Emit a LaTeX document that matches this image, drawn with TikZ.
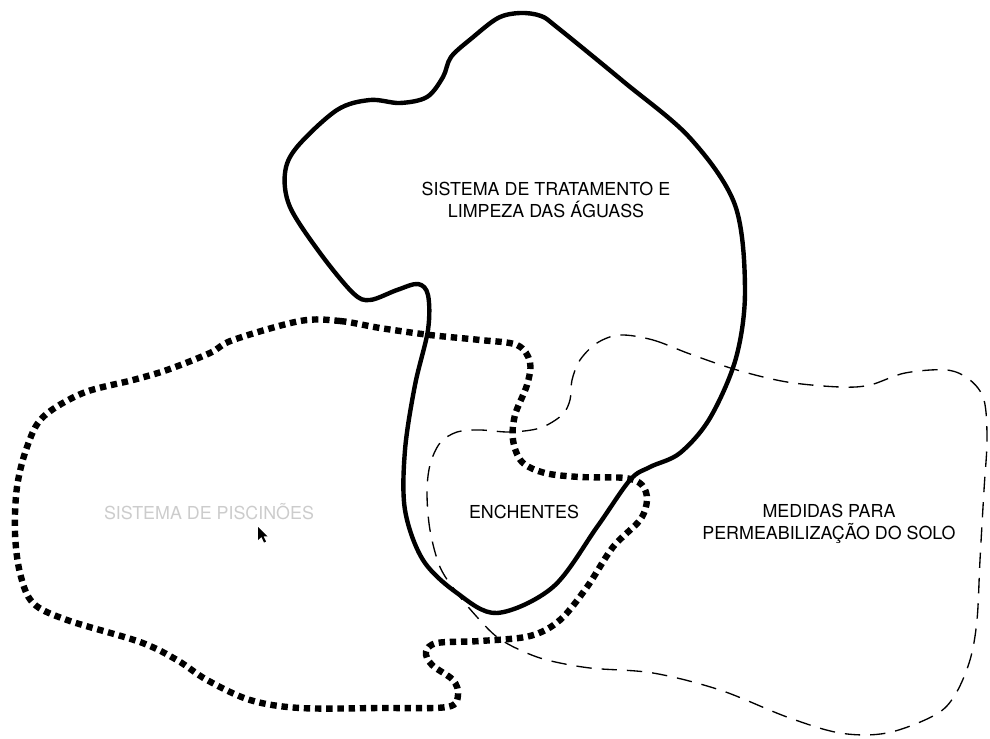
\documentclass[tikz,border=0pt]{standalone}
\usepackage{fontspec}
\setmainfont{TeX Gyre Heros}
\begin{document}
\begin{tikzpicture}[x=0.75pt,y=-0.75pt,
  label/.style={font=\fontsize{13.4}{16.5}\selectfont, align=center, inner sep=0pt},
  floodzone/.style={line width=1pt, dash pattern=on 11.5pt off 7.5pt},
  poolzone/.style={line width=4.8pt, dash pattern=on 4.8pt off 3.6pt},
  waterzone/.style={line width=3.3pt}]
\useasboundingbox (0,0) rectangle (990,739);

% soil permeabilisation area (thin dashed)
\draw[floodzone] plot[smooth cycle, tension=0.55] coordinates {
  (620,335) (653,340) (690,354) (737,370) (787,382) (840,387) (870,385)
  (905,373) (947,370) (970,380) (984,400) (987,440) (984,490) (980,560)
  (977,620) (970,660) (955,695) (935,715) (887,733) (840,733) (787,717)
  (720,690) (653,673) (590,668) (547,660) (520,650) (497,637) (477,617)
  (457,593) (440,567) (430,530) (427,493) (430,465) (440,443) (457,432)
  (480,430) (510,432) (540,428) (562,415) (570,400) (572,380) (580,360)
  (597,343)};

% pool system area (heavy square dots)
\draw[poolzone] plot[smooth cycle, tension=0.55] coordinates {
  (300,321) (340,321) (380,328) (430,335) (480,340) (517,345) (530,362)
  (527,385) (515,415) (513,440) (522,462) (545,473) (580,477) (625,478)
  (642,485) (647,500) (640,520) (613,547) (587,587) (560,620) (530,636)
  (480,641) (437,643) (426,652) (432,665) (453,680) (458,695) (447,707)
  (380,708) (300,708) (250,700) (207,680) (177,660) (140,642) (67,620)
  (33,603) (20,573) (15,533) (17,487) (27,447) (43,417) (83,393)
  (133,380) (167,370) (210,353) (233,340)};

% water treatment area (solid outline)
\draw[waterzone] plot[smooth cycle, tension=0.55] coordinates {
  (520,13) (541,16) (558,28) (624,82) (690,138) (735,205) (745,290)
  (736,358) (710,418) (680,453) (650,467) (630,480) (597,527) (553,587)
  (497,613) (457,593) (423,560) (405,510) (405,450) (415,385) (428,330)
  (428,295) (418,284) (397,290) (370,300) (353,293) (320,253) (290,207)
  (285,173) (297,147) (337,110) (370,100) (400,103) (427,97) (443,77)
  (451,57) (472,38) (498,18)};

% labels
\node[label] (agua) at (546,200) {SISTEMA DE TRATAMENTO E\\LIMPEZA DAS ÁGUASS};
\node[label] (enchentes) at (524,512) {ENCHENTES};
\node[label] (solo) at (829,524) {MEDIDAS PARA\\PERMEABILIZAÇÃO DO SOLO};
\node[label, text=black!20] (piscinoes) at (209,512) {SISTEMA DE PISCINÕES};

% mouse pointer
\fill[black] (258,527) -- (258,540) -- (261.5,537) -- (264,542.5) -- (266,541.5)
  -- (263.5,536.3) -- (267.5,536.3) -- cycle;
\end{tikzpicture}
\end{document}
